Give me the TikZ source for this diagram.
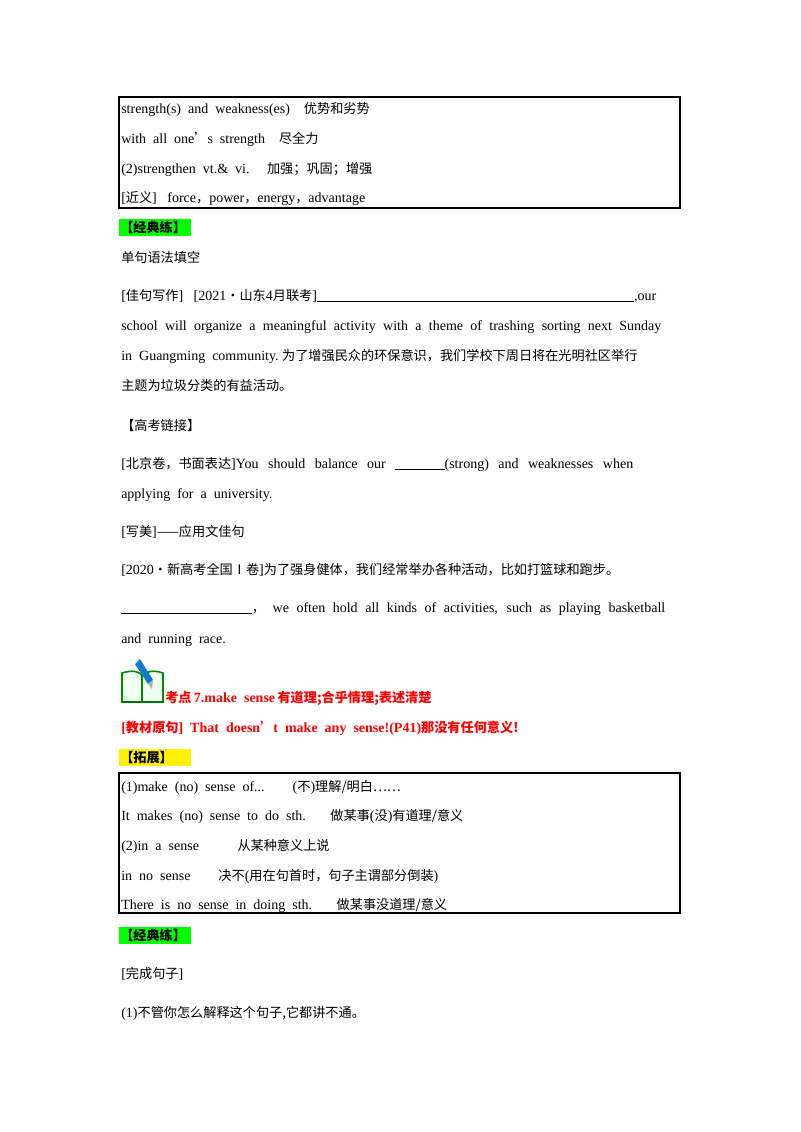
\documentclass[tikz,border=0pt]{standalone}
\usepackage{fontspec}
\setmainfont{Liberation Serif}
\newfontfamily\cjk[Scale=0.94]{Noto Sans CJK SC}
\newcommand{\zh}[1]{{\cjk #1}}
\newcommand{\jl}[2]{\makebox[#1][s]{#2}}
\tikzset{t/.style={anchor=base west, inner sep=0, font=\fontsize{10.5}{12}\selectfont},
 rd/.style={t, text=red, font=\fontsize{10.5}{12}\selectfont\bfseries},
 box/.style={draw, line width=0.8pt}}
\begin{document}
\begin{tikzpicture}[x=0.75pt,y=-0.75pt]
\useasboundingbox[fill=white] (0,0) rectangle (800,1132);
% box 1
\draw[box] (119,97) rectangle (680,208);
\node[t] (a1) at (121,113) {strength(s)\ \ and\ \ weakness(es)\ \ \ \ \zh{优势和劣势}};
\node[t] (a2) at (121,143) {with\ \ all\ \ one\zh{’}s\ \ strength\ \ \ \ \zh{尽全力}};
\node[t] (a3) at (121,173) {(2)strengthen\ \ vt.\&\ \ vi.\ \ \ \ \ \zh{加强；巩固；增强}};
\node[t] (a4) at (121,202) {[\zh{近义}]\ \ \ force\zh{，}power\zh{，}energy\zh{，}advantage};
% green label
\fill[green] (119,219) rectangle (191,236);
\node[t, font=\fontsize{10.5}{12}\selectfont\bfseries] (g1) at (120,232) {\zh{【经典练】}};
\node[t] (b1) at (121,262) {\zh{单句语法填空}};
\node[t] (b2) at (121,300) {[\zh{佳句写作}]\ \ \ [2021\zh{·山东}4\zh{月联考}]\rule[-1.5pt]{237.75pt}{0.5pt},our};
\node[t] (b3) at (121,330) {\jl{405pt}{school will organize a meaningful activity with a theme of trashing sorting next Sunday}};
\node[t] (b4) at (121,360) {in\ \ Guangming\ \ community.\ \zh{为了增强民众的环保意识，我们学校下周日将在光明社区举行}};
\node[t] (b5) at (121,390) {\zh{主题为垃圾分类的有益活动。}};
\node[t] (b6) at (121,430) {\zh{【高考链接】}};
\node[t] (b7) at (121,468) {\jl{384pt}{[\zh{北京卷，书面表达}]You should balance our \rule[-1.5pt]{37pt}{0.4pt}(strong) and weaknesses when}};
\node[t] (b8) at (121,498) {applying\ \ for\ \ a\ \ university.};
\node[t] (b9) at (121,536) {[\zh{写美}]\zh{——应用文佳句}};
\node[t] (b10) at (121,574) {[2020\zh{·新高考全国Ⅰ卷}]\zh{为了强身健体，我们经常举办各种活动，比如打篮球和跑步。}};
\node[t] (b11) at (121,612) {\jl{408pt}{\rule[-1.5pt]{98pt}{0.4pt}\zh{，} we often hold all kinds of activities, such as playing basketball}};
\node[t] (b12) at (121,643) {and\ \ running\ \ race.};
% icon
\begin{scope}
\draw[green!55!black, line width=1.2pt, fill=green!6] (122,702) -- (122,673) .. controls (132,670) and (138,671) .. (142,675) .. controls (147,671) and (154,670) .. (163,673) -- (163,702) -- cycle;
\draw[green!55!black, line width=0.8pt] (142,675) -- (142,702);
\draw[green!45!black, line width=1.5pt] (122,702) -- (163,702);
\fill[cyan!60!blue] (135,664) -- (140,659) -- (153,680) -- (148,684) -- cycle;
\fill[gray!60] (148,684) -- (153,680) -- (152,689) -- cycle;
\end{scope}
\node[rd] (c1) at (165,702) {\zh{考点}\,7.make\ \ sense\,\zh{有道理;合乎情理;表述清楚}};
\node[rd] (c2) at (121,732) {[\zh{教材原句}]\ \ That\ \ doesn\zh{’}t\ \ make\ \ any\ \ sense!(P41)\zh{那没有任何意义!}};
% yellow label
\fill[yellow] (119,749) rectangle (191,766);
\node[t, font=\fontsize{10.5}{12}\selectfont\bfseries] (y1) at (120,762) {\zh{【拓展】}};
% box 2
\draw[box] (119,773) rectangle (680,913);
\node[t] (d1) at (121,791) {(1)make\ \ (no)\ \ sense\ \ of...\ \ \ \ \ \ \ \ (\zh{不})\zh{理解/明白……}};
\node[t] (d2) at (121,820) {It\ \ makes\ \ (no)\ \ sense\ \ to\ \ do\ \ sth.\ \ \ \ \ \ \ \zh{做某事}(\zh{没})\zh{有道理/意义}};
\node[t] (d3) at (121,850) {(2)in\ \ a\ \ sense\ \ \ \ \ \ \ \ \ \ \ \zh{从某种意义上说}};
\node[t] (d4) at (121,880) {in\ \ no\ \ sense\ \ \ \ \ \ \ \ \zh{决不}(\zh{用在句首时，句子主谓部分倒装})};
\node[t] (d5) at (121,909) {There\ \ is\ \ no\ \ sense\ \ in\ \ doing\ \ sth.\ \ \ \ \ \ \ \zh{做某事没道理/意义}};
\fill[green] (119,927) rectangle (191,944);
\node[t, font=\fontsize{10.5}{12}\selectfont\bfseries] (g2) at (120,940) {\zh{【经典练】}};
\node[t] (e1) at (121,978) {[\zh{完成句子}]};
\node[t] (e2) at (121,1017) {(1)\zh{不管你怎么解释这个句子,它都讲不通。}};
\end{tikzpicture}
\end{document}
